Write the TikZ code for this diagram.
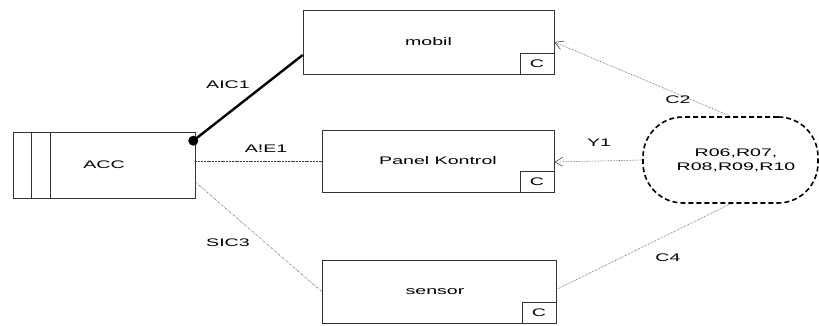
\documentclass[tikz,border=0pt]{standalone}
\usepackage{fontspec}
\setmainfont{Liberation Sans}
\usetikzlibrary{arrows.meta}
\newcommand{\wt}[1]{\scalebox{1.78}[1]{#1}}
\begin{document}
\begin{tikzpicture}[x=1pt,y=-1pt,
  font=\fontsize{11}{13}\selectfont,
  box/.style={draw=black!80, line width=0.6pt, inner sep=0pt},
  cbox/.style={draw=black!80, line width=0.6pt, minimum width=34pt, minimum height=21pt, inner sep=0pt, anchor=south east},
  lbl/.style={inner sep=0pt},
  link/.style={black!70, line width=0.6pt, densely dotted},
  openarrow/.style={-{Straight Barb[length=8pt,width=9pt]}}]
\useasboundingbox (0,0) rectangle (819,326);

% ACC
\node[box, minimum width=182pt, minimum height=66pt] (acc) at (104,165) {};
\draw[black!80, line width=0.6pt] (acc.north west) ++(19,0) coordinate (a1) -- (a1 |- acc.south);
\draw[black!80, line width=0.6pt] (acc.north west) ++(38,0) coordinate (a2) -- (a2 |- acc.south);
\node[lbl] (acct) at (104,165) {\wt{ACC}};

% boxes
\node[box, minimum width=251pt, minimum height=64pt] (mobil) at (428.5,42) {\wt{mobil}};
\node[cbox] (cm) at (mobil.south east) {\wt{C}};
\node[box, minimum width=232pt, minimum height=62pt] (panel) at (438,161) {\wt{Panel Kontrol}};
\node[cbox] (cp) at (panel.south east) {\wt{C}};
\node[box, minimum width=234pt, minimum height=63pt] (sensor) at (439,291.5) {};
\node[lbl] (sensort) at (435,291.5) {\wt{sensor}};
\node[cbox] (cs) at (sensor.south east) {\wt{C}};

% requirement bubble
\node[draw=black, line width=1.6pt, dash pattern=on 5pt off 3pt, rounded corners=40pt,
      minimum width=175pt, minimum height=86pt, inner sep=0pt] (req) at (730.5,160) {};
\node[lbl, align=center] (reqt) at (736,160.5) {\wt{R06,R07,}\\[1.5pt]\wt{R08,R09,R10}};

% dot and thick link
\node[circle, fill=black, inner sep=0pt, minimum size=10pt] (dot) at ([xshift=-2pt,yshift=-9pt]acc.north east) {};
\draw[line width=2.4pt] (dot.center) -- ([yshift=-13pt]mobil.west);

% other links
\draw[black!75, line width=0.6pt, dash pattern=on 2pt off 0.8pt] (panel.west -| acc.east) -- (panel.west);
\draw[black!55, line width=0.6pt, dash pattern=on 2pt off 1.2pt on 0.6pt off 1.2pt] ([yshift=-17pt]acc.east) -- (sensor.west);
\draw[link, openarrow] (req.north) -- (mobil.east);
\draw[link, openarrow] (req.west) -- ([yshift=-1pt]panel.east);
\draw[link] (req.south) -- ([yshift=2pt]sensor.east);

% labels
\node[lbl] (l1) at (228,85) {\wt{AIC1}};
\node[lbl] (l2) at (266,149) {\wt{A!E1}};
\node[lbl] (l3) at (228,243) {\wt{SIC3}};
\node[lbl] (l4) at (678,100) {\wt{C2}};
\node[lbl] (l5) at (599,143) {\wt{Y1}};
\node[lbl] (l6) at (668,258) {\wt{C4}};
\end{tikzpicture}
\end{document}
